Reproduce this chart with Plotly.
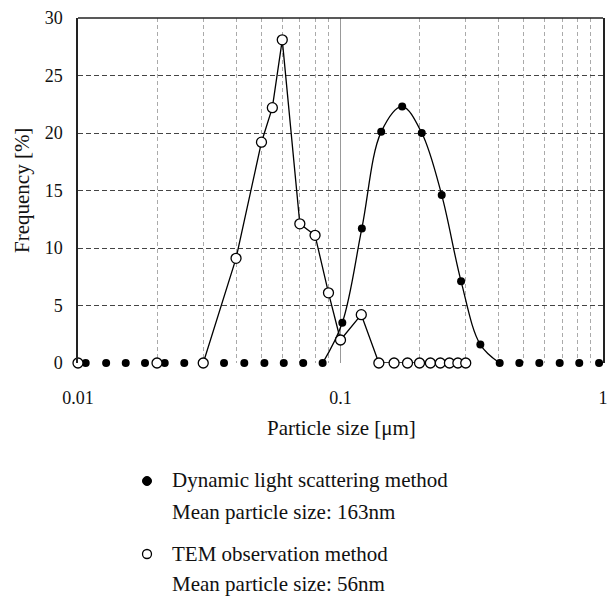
import plotly.graph_objects as go

# ---- data ----
dls_x = [0.0107, 0.0128, 0.0152, 0.0180, 0.0214, 0.0254, 0.0302, 0.0360, 0.0430,
         0.0513, 0.0608, 0.0721, 0.0855, 0.1016, 0.1206, 0.1429, 0.1718, 0.204,
         0.243, 0.288, 0.341, 0.404, 0.480, 0.572, 0.684, 0.812, 0.966]
dls_y = [0, 0, 0, 0, 0, 0, 0, 0, 0,
         0, 0, 0, 0, 3.5, 11.7, 20.1, 22.3, 20.0,
         14.6, 7.1, 1.6, 0, 0, 0, 0, 0, 0]

tem_x = [0.01, 0.02, 0.03, 0.04, 0.05, 0.055, 0.06, 0.07, 0.08, 0.09, 0.10,
         0.12, 0.14, 0.16, 0.18, 0.20, 0.22, 0.24, 0.26, 0.28, 0.30]
tem_y = [0, 0, 0, 9.1, 19.2, 22.2, 28.1, 12.1, 11.1, 6.1, 2.0,
         4.2, 0, 0, 0, 0, 0, 0, 0, 0, 0]

x_tickvals = [0.01, 0.1, 1]
x_ticktext = ["0.01", "0.1", "1"]
x_minor = [0.02, 0.03, 0.04, 0.05, 0.06, 0.07, 0.08, 0.09,
           0.2, 0.3, 0.4, 0.5, 0.6, 0.7, 0.8, 0.9]

legend_lines = ["Dynamic light scattering method", "Mean particle size: 163nm",
                "TEM observation method", "Mean particle size: 56nm"]

FONT = "Liberation Serif"
W, H = 609, 596
ML, MR, MT, MB = 78, 6, 18, 233
PW, PH = W - ML - MR, H - MT - MB


def px(xp):
    return (xp - ML) / PW


def py(yp):
    return (H - MB - yp) / PH


fig = go.Figure()

# DLS smooth line over the hump
fig.add_trace(go.Scatter(x=dls_x[12:22], y=dls_y[12:22], mode="lines",
                         line=dict(color="black", width=1.3, shape="spline", smoothing=1.0),
                         hoverinfo="skip", showlegend=False, cliponaxis=False))
# TEM straight line
fig.add_trace(go.Scatter(x=tem_x[2:], y=tem_y[2:], mode="lines",
                         line=dict(color="black", width=1.3),
                         hoverinfo="skip", showlegend=False, cliponaxis=False))
# markers
fig.add_trace(go.Scatter(x=dls_x, y=dls_y, mode="markers",
                         marker=dict(symbol="circle", size=8, color="black"),
                         name="DLS", showlegend=False, cliponaxis=False))
fig.add_trace(go.Scatter(x=tem_x, y=tem_y, mode="markers",
                         marker=dict(symbol="circle", size=10, color="white",
                                     line=dict(color="black", width=1.3)),
                         name="TEM", showlegend=False, cliponaxis=False))

shapes = [
    dict(type="line", xref="paper", yref="paper", x0=0, x1=1, y0=1, y1=1,
         line=dict(color="#222", width=1.5)),
    # legend symbols
    dict(type="circle", xref="paper", yref="paper", xsizemode="pixel", ysizemode="pixel",
         xanchor=px(147), yanchor=py(481), x0=-4.5, x1=4.5, y0=-4.5, y1=4.5,
         fillcolor="black", line=dict(color="black", width=1)),
    dict(type="circle", xref="paper", yref="paper", xsizemode="pixel", ysizemode="pixel",
         xanchor=px(147), yanchor=py(554), x0=-4.5, x1=4.5, y0=-4.5, y1=4.5,
         fillcolor="white", line=dict(color="black", width=1.3)),
]

annotations = [
    dict(text="Frequency [%]", xref="paper", yref="paper", x=px(22), y=py(190),
         textangle=-90, showarrow=False, font=dict(family=FONT, size=21, color="#111"),
         xanchor="center", yanchor="middle"),
    dict(text="Particle size [μm]", xref="paper", yref="paper", x=px(341), y=py(428),
         showarrow=False, font=dict(family=FONT, size=21, color="#111"),
         xanchor="center", yanchor="middle"),
]
for txt, yy in zip(legend_lines, [480, 512, 554, 584]):
    annotations.append(dict(text=txt, xref="paper", yref="paper", x=px(170), y=py(yy),
                            showarrow=False, font=dict(family=FONT, size=21, color="#111"),
                            xanchor="left", yanchor="middle"))

fig.update_layout(
    width=W, height=H,
    margin=dict(l=ML, r=MR, t=MT, b=MB, autoexpand=False),
    paper_bgcolor="white", plot_bgcolor="white",
    font=dict(family=FONT, size=18, color="#111"),
    shapes=shapes, annotations=annotations,
    showlegend=False,
)
fig.update_xaxes(type="log", range=[-2, 0], tickmode="array",
                 tickvals=x_tickvals, ticktext=x_ticktext,
                 showgrid=True, gridcolor="#999", gridwidth=1,
                 minor=dict(tickmode="array", tickvals=x_minor, showgrid=True,
                            gridcolor="#aaa", griddash="4px,3px", gridwidth=1),
                 showline=False, zeroline=False, ticks="", automargin=False,
                 ticklabelstandoff=22,
                 tickfont=dict(family=FONT, size=18, color="#111"))
fig.update_yaxes(range=[0, 30], dtick=5, showgrid=True, gridcolor="#444",
                 griddash="5px,3px", gridwidth=1,
                 showline=True, mirror=True, linecolor="#222", linewidth=1.5,
                 zeroline=False, ticks="", ticklabelstandoff=10, automargin=False,
                 tickfont=dict(family=FONT, size=18, color="#111"))

fig.write_html("out.html", config={"displayModeBar": False},
               post_script="document.body.style.margin='0';document.body.style.overflow='hidden';")
